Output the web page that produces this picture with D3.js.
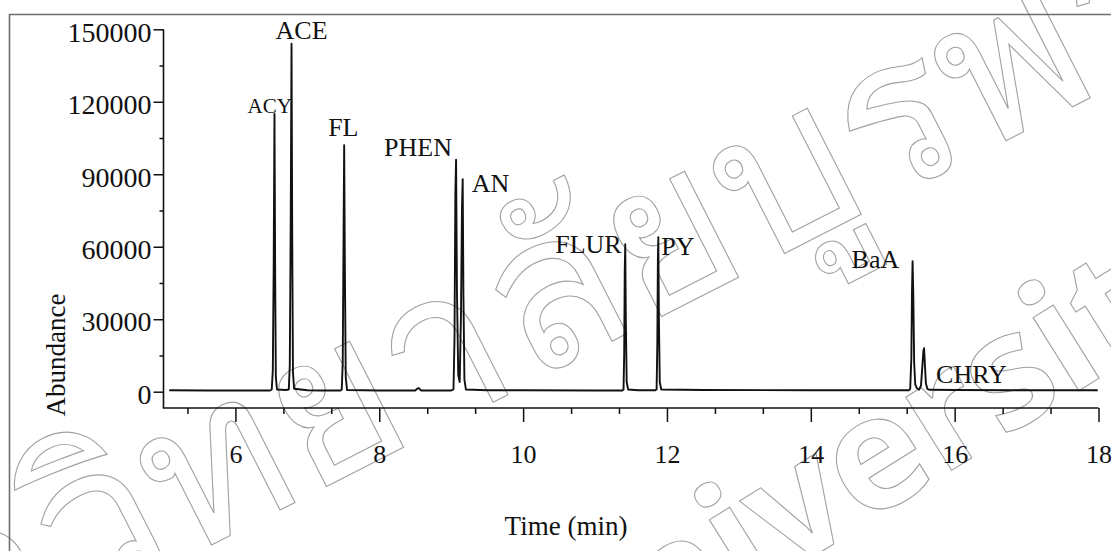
<!DOCTYPE html>
<html>
<head>
<meta charset="utf-8">
<script src="https://cdn.jsdelivr.net/npm/d3@7"></script>
<style>
  body { margin: 0; background: #fff; }
  svg { display: block; }
</style>
</head>
<body>
<svg id="chart" width="1111" height="551"></svg>
<script>
// Total ion chromatogram of the PAH standard mix (time in min, abundance in counts)
const traceTime = [
  5.08, 5.60, 6.00, 6.48,
  6.505, 6.52, 6.532, 6.543, 6.553, 6.562, 6.578,
  6.70,
  6.742, 6.756, 6.769, 6.780, 6.790, 6.800, 6.816,
  7.00, 7.20, 7.46,
  7.478, 7.492, 7.503, 7.512, 7.522, 7.534, 7.552,
  8.00, 8.50, 8.53, 8.55, 8.58, 9.00,
  9.032, 9.046, 9.058, 9.068, 9.080, 9.098, 9.118, 9.136, 9.150, 9.160, 9.170, 9.184, 9.205,
  9.50, 10.00, 11.00, 11.38,
  11.396, 11.405, 11.413, 11.420, 11.428, 11.440, 11.460,
  11.60, 11.84,
  11.856, 11.866, 11.874, 11.880, 11.888, 11.900, 11.920,
  12.50, 14.00, 15.00, 15.365,
  15.382, 15.398, 15.407, 15.415, 15.425, 15.437, 15.452, 15.475, 15.505,
  15.532, 15.552, 15.566, 15.575, 15.585, 15.600, 15.620, 15.645,
  16.00, 17.00, 17.99
];
const traceAbundance = [
  600, 500, 500, 500,
  900, 9000, 52000, 115000, 46000, 6000, 900,
  700,
  900, 11000, 72000, 144000, 62000, 8000, 1200,
  600, 500, 500,
  800, 12000, 62000, 102000, 50000, 6000, 700,
  500, 500, 1300, 1500, 500, 500,
  1000, 22000, 82000, 96000, 42000, 7000, 4000, 32000, 76000, 88000, 40000, 5000, 900,
  600, 600, 500, 500,
  900, 15000, 50000, 61000, 30000, 4000, 900,
  600, 600,
  1000, 20000, 55000, 64000, 30000, 4000, 900,
  700, 600, 600, 600,
  1200, 14000, 42000, 54000, 40000, 12000, 3000, 1400, 800,
  2500, 11000, 17000, 18000, 12000, 3500, 1200, 800,
  700, 600, 600
];

// Peak annotations
const compounds = ["ACY", "ACE", "FL", "PHEN", "AN", "FLUR", "PY", "BaA", "CHRY"];
const compoundTime = [6.543, 6.780, 7.512, 9.068, 9.160, 11.420, 11.880, 15.415, 15.575];
const compoundHeight = [115000, 144000, 102000, 96000, 88000, 61000, 64000, 54000, 18000];

// Axis ticks
const yTickValues = [0, 30000, 60000, 90000, 120000, 150000];
const yMinorValues = [15000, 45000, 75000, 105000, 135000];
const xTickValues = [6, 8, 10, 12, 14, 16, 18];
const xMinorValues = [5.333, 6.667, 7.333, 8.667, 9.333, 10.667, 11.333, 12.667, 13.333, 14.667, 15.333, 16.667, 17.333];

// Label placement relative to each peak apex (px)
const labelLayout = {
  ACY:  { dx: -27, dy: -1,  size: 21 },
  ACE:  { dx: -16, dy: -5,  size: 26 },
  FL:   { dx: -16, dy: -9,  size: 26 },
  PHEN: { dx: -72, dy: -4,  size: 26 },
  AN:   { dx: 9,   dy: 13,  size: 26 },
  FLUR: { dx: -70, dy: 9,   size: 26 },
  PY:   { dx: 3,   dy: 18,  size: 26 },
  BaA:  { dx: -61, dy: 7,   size: 26 },
  CHRY: { dx: 12,  dy: 35,  size: 26 }
};

const SERIF = "'Liberation Serif', 'Times New Roman', serif";
const ink = "#111";

const svg = d3.select("#chart");

// Faint outlined watermark behind the figure
const wm = svg.append("g")
  .attr("fill", "none")
  .attr("stroke", "#a2a2a2")
  .attr("stroke-width", 1.1)
  .style("font-family", "'Noto Sans', 'DejaVu Sans', sans-serif");
wm.append("text")
  .attr("transform", "translate(464,417) rotate(-27)")
  .attr("text-anchor", "middle")
  .style("font-size", "214px")
  .text("มหาวิทยาลัยบูรพา");
wm.append("text")
  .attr("transform", "translate(600,690) rotate(-32)")
  .attr("text-anchor", "middle")
  .style("font-size", "158px")
  .style("font-weight", "bold")
  .text("Burapha University");

// Figure frame
svg.append("path")
  .attr("d", "M9.5,551 V14.5 H1111")
  .attr("fill", "none")
  .attr("stroke", "#6e6e6e")
  .attr("stroke-width", 1.6);

const x = d3.scaleLinear().domain([5, 18]).range([163.5, 1098.5]);
const y = d3.scaleLinear().domain([0, 150000]).range([391.7, 29.3]);

// Y axis
const yAxisG = svg.append("g").attr("transform", "translate(163.5,0)");
yAxisG.append("line")
  .attr("y1", y(150000)).attr("y2", 408)
  .attr("stroke", ink).attr("stroke-width", 1.6);
yAxisG.append("g")
  .call(d3.axisLeft(y).tickValues(yMinorValues).tickSize(4).tickFormat(""))
  .call(g => g.select(".domain").remove());
const yMajor = yAxisG.append("g")
  .call(d3.axisLeft(y).tickValues(yTickValues).tickSize(10).tickPadding(2).tickFormat(d3.format("d")))
  .attr("font-family", SERIF)
  .attr("font-size", 28);
yMajor.select(".domain").remove();
yAxisG.selectAll("g.tick line").attr("stroke", ink).attr("stroke-width", 1.5);
yMajor.selectAll("text")
  .attr("dy", "0.42em")
  .style("font-family", SERIF)
  .style("font-size", "28px")
  .style("fill", ink);

// X axis
const xAxisY = 408;
const xAxisG = svg.append("g").attr("transform", `translate(0,${xAxisY})`);
xAxisG.append("line")
  .attr("x1", 162.7).attr("x2", x(18))
  .attr("stroke", ink).attr("stroke-width", 1.6);
xAxisG.append("g")
  .call(d3.axisBottom(x).tickValues(xMinorValues).tickSize(6).tickFormat(""))
  .call(g => g.select(".domain").remove());
const xMajor = xAxisG.append("g")
  .call(d3.axisBottom(x).tickValues(xTickValues).tickSize(14).tickFormat(d3.format("d")))
  .attr("font-family", SERIF)
  .attr("font-size", 26);
xMajor.select(".domain").remove();
xAxisG.selectAll("g.tick line").attr("stroke", ink).attr("stroke-width", 1.5);
xMajor.selectAll("text")
  .attr("dy", "0em")
  .attr("y", 55)
  .style("font-family", SERIF)
  .style("font-size", "26px")
  .style("fill", ink);

// Axis titles
svg.append("text")
  .attr("transform", "translate(65,355) rotate(-90)")
  .attr("text-anchor", "middle")
  .style("font-family", SERIF)
  .style("font-size", "27px")
  .style("fill", ink)
  .text("Abundance");
svg.append("text")
  .attr("x", 566).attr("y", 535)
  .attr("text-anchor", "middle")
  .style("font-family", SERIF)
  .style("font-size", "27px")
  .style("fill", ink)
  .text("Time (min)");

// Chromatogram trace
const points = traceTime.map((t, i) => [t, traceAbundance[i]]);
svg.append("path")
  .datum(points)
  .attr("fill", "none")
  .attr("stroke", ink)
  .attr("stroke-width", 1.9)
  .attr("stroke-linejoin", "round")
  .attr("d", d3.line().x(d => x(d[0])).y(d => y(d[1])));

// Peak labels
svg.append("g").selectAll("text")
  .data(compounds)
  .join("text")
  .attr("x", (d, i) => x(compoundTime[i]) + labelLayout[d].dx)
  .attr("y", (d, i) => y(compoundHeight[i]) + labelLayout[d].dy)
  .style("font-family", SERIF)
  .style("font-size", d => labelLayout[d].size + "px")
  .style("fill", ink)
  .text(d => d);
</script>
</body>
</html>
